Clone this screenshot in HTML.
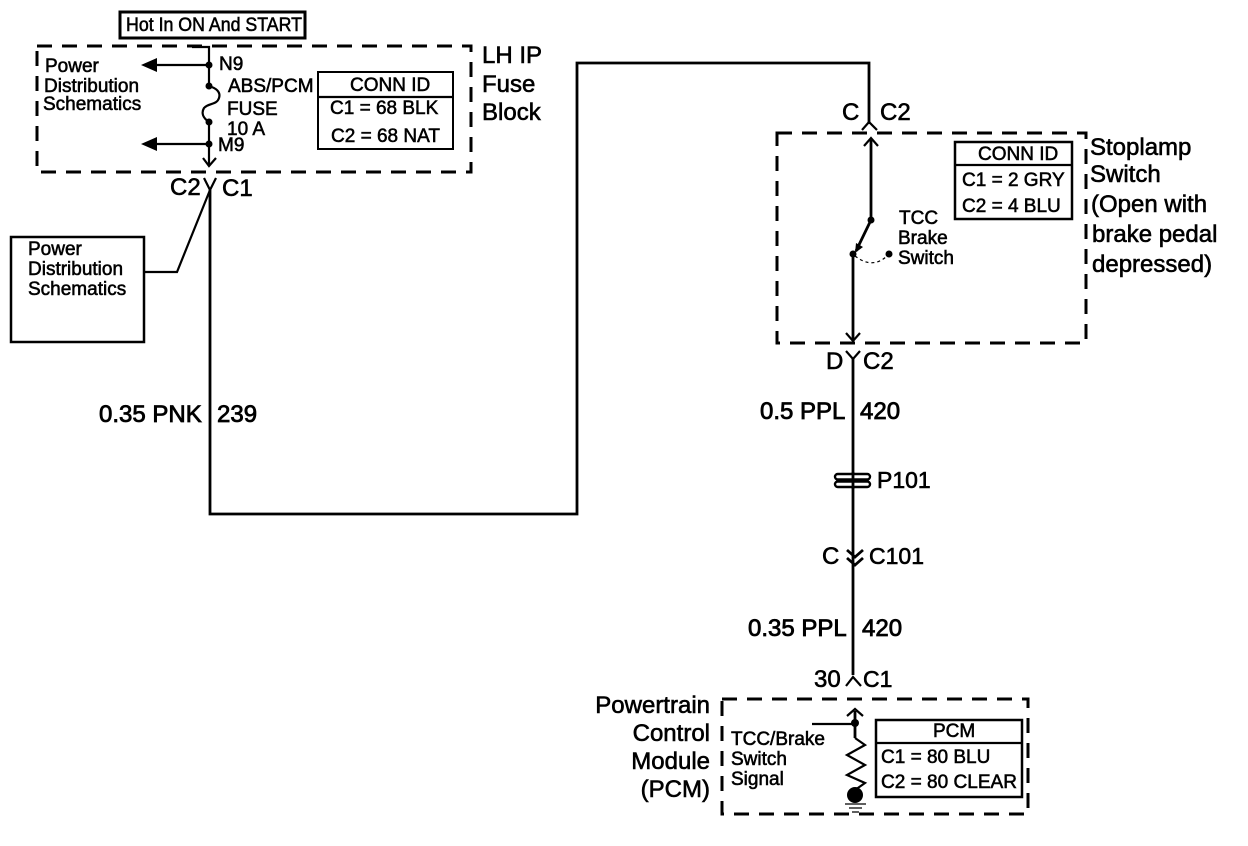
<!DOCTYPE html>
<html><head><meta charset="utf-8"><style>
html,body{margin:0;padding:0;background:#fff}
svg{display:block}
text{font-family:"Liberation Sans",sans-serif;fill:#000;stroke:#000;stroke-width:.55px}
.s{font-size:19px}.l{font-size:24px;stroke-width:.8px}.x{font-size:24px;stroke-width:.6px}.p{font-size:23px;stroke-width:.6px}
.d{fill:none;stroke:#000;stroke-width:3;stroke-dasharray:15 10}
.w{fill:none;stroke:#000;stroke-width:2.2}
.w3{fill:none;stroke:#000;stroke-width:2.8}
.b{fill:#000;stroke:none}
.e{text-anchor:end}
</style></head><body>
<svg width="1248" height="846" viewBox="0 0 1248 846" xmlns="http://www.w3.org/2000/svg">
<!-- LH IP Fuse block -->
<rect x="120" y="12" width="185" height="26" fill="none" stroke="#000" stroke-width="3"/>
<text x="126" y="31" class="s" textLength="176" lengthAdjust="spacingAndGlyphs">Hot In ON And START</text>
<rect class="d" x="37" y="46" width="434" height="126"/>
<text x="45" y="72" class="s">Power</text>
<text x="44" y="92" class="s">Distribution</text>
<text x="43" y="110" class="s">Schematics</text>
<path class="w" d="M192 47H209V86"/>
<path class="w" d="M209 86C216 88 221 92 219 98C217 105 208 103 204 108C201 113 203 118 209 122V165"/>
<path class="w" d="M203 158L209 166L216 158"/>
<path class="w" d="M155 65H209M155 144H209"/>
<path class="b" d="M141 65L157 58V72ZM141 144L157 137V151Z"/>
<circle class="b" cx="209" cy="65" r="3.5"/><circle class="b" cx="209" cy="86" r="3.5"/><circle class="b" cx="209" cy="122" r="3.5"/><circle class="b" cx="209" cy="144" r="3.5"/>
<text x="219" y="70" class="s">N9</text>
<text x="228" y="92" class="s">ABS/PCM</text>
<text x="227" y="115" class="s">FUSE</text>
<text x="227" y="135" class="s">10 A</text>
<text x="218" y="151" class="s">M9</text>
<rect x="318" y="72" width="135" height="77" fill="none" stroke="#000" stroke-width="2"/>
<path class="w" d="M318 97H453"/>
<text x="350" y="91" class="s">CONN ID</text>
<text x="330" y="114" class="s">C1 = 68 BLK</text>
<text x="331" y="142" class="s">C2 = 68 NAT</text>
<text x="482" y="63" class="x">LH IP</text>
<text x="482" y="92" class="x">Fuse</text>
<text x="482" y="120" class="x">Block</text>
<!-- C2/C1 -->
<path class="w" d="M204 178L210 190L216 178"/>
<text x="170" y="195" class="x">C2</text>
<text x="222" y="196" class="x">C1</text>
<rect x="11" y="237" width="133" height="105" fill="none" stroke="#000" stroke-width="2.5"/>
<text x="28" y="255" class="s">Power</text>
<text x="28" y="275" class="s">Distribution</text>
<text x="28" y="295" class="s">Schematics</text>
<path class="w" d="M144 272H177L210 190"/>
<path class="w3" d="M210 190V514H577V63H869V124"/>
<text x="99" y="422" class="l">0.35 PNK</text>
<text x="217" y="422" class="l">239</text>
<!-- Stoplamp -->
<text x="842" y="120" class="x">C</text>
<text x="880" y="120" class="x">C2</text>
<path class="w" d="M862 130L869 122L877 130"/>
<rect class="d" x="777" y="133" width="309" height="210"/>
<path class="w3" d="M871 140V219"/>
<path class="w" d="M864 146L871 138L878 146"/>
<circle class="b" cx="871" cy="220" r="3.5"/>
<path class="w3" d="M871 220L856 251"/>
<path class="b" d="M855 253L856 243L863 247Z"/>
<circle class="b" cx="853" cy="254" r="3.5"/>
<path d="M855 256Q873 270 888 255" fill="none" stroke="#000" stroke-width="1.2" stroke-dasharray="3 3"/>
<circle class="b" cx="889" cy="254" r="3.5"/>
<path class="w3" d="M853 254V340"/>
<path class="w" d="M846 333L853 341L860 333"/>
<text x="899" y="224" class="s">TCC</text>
<text x="898" y="244" class="s">Brake</text>
<text x="898" y="264" class="s">Switch</text>
<rect x="955" y="142" width="117" height="77" fill="none" stroke="#000" stroke-width="2.5"/>
<path class="w" d="M955 165H1072"/>
<text x="978" y="160" class="s">CONN ID</text>
<text x="962" y="186" class="s">C1 = 2 GRY</text>
<text x="962" y="212" class="s">C2 = 4 BLU</text>
<text x="1090" y="155" class="x">Stoplamp</text>
<text x="1090" y="182" class="x">Switch</text>
<text x="1091" y="212" class="x">(Open with</text>
<text x="1092" y="242" class="x">brake pedal</text>
<text x="1092" y="272" class="x">depressed)</text>
<!-- lower wire -->
<path class="w" d="M846 351L853 359L860 351"/>
<path class="w3" d="M853 359V675"/>
<text x="826" y="369" class="x">D</text>
<text x="863" y="369" class="x">C2</text>
<text x="760" y="419" class="l">0.5 PPL</text>
<text x="860" y="419" class="l">420</text>
<rect x="835" y="474" width="35" height="5.5" rx="2.7" fill="#fff" stroke="#000" stroke-width="2.4"/>
<rect x="835" y="481.5" width="35" height="5.5" rx="2.7" fill="#fff" stroke="#000" stroke-width="2.4"/>
<path d="M853 472V489" stroke="#000" stroke-width="2.8" fill="none"/>
<path d="M838 480.5H867" stroke="#000" stroke-width="2" fill="none"/>
<text x="877" y="488" class="p">P101</text>
<text x="822" y="564" class="x">C</text>
<path class="w3" d="M847 550L855 557L863 550M847 558L855 565L863 558"/>
<text x="869" y="564" class="p">C101</text>
<text x="748" y="636" class="l">0.35 PPL</text>
<text x="862" y="636" class="l">420</text>
<text x="814" y="687" class="x">30</text>
<path class="w" d="M846 686L853 677L861 686"/>
<text x="863" y="687" class="p">C1</text>
<!-- PCM -->
<rect class="d" x="722" y="699" width="306" height="115"/>
<text x="710" y="713" class="x e">Powertrain</text>
<text x="710" y="741" class="x e">Control</text>
<text x="710" y="769" class="x e">Module</text>
<text x="710" y="797" class="x e">(PCM)</text>
<path class="w3" d="M855 711V738"/>
<path class="w" d="M847 716L855 709L863 716"/>
<path class="w" d="M812 724H855"/>
<circle class="b" cx="855" cy="723" r="4"/>
<path class="w" d="M855 738L865 745L847 755L865 765L847 775L865 783L855 790"/>
<circle class="b" cx="855" cy="795" r="8"/>
<path d="M845 804H866M849 808H862M852 812H859" stroke="#000" stroke-width="1.3" fill="none"/>
<text x="731" y="745" class="s">TCC/Brake</text>
<text x="731" y="765" class="s">Switch</text>
<text x="731" y="785" class="s">Signal</text>
<rect x="876" y="720" width="146" height="77" fill="none" stroke="#000" stroke-width="2.5"/>
<path class="w" d="M876 743H1022"/>
<text x="933" y="737" class="s">PCM</text>
<text x="881" y="763" class="s">C1 = 80 BLU</text>
<text x="881" y="788" class="s" textLength="136" lengthAdjust="spacingAndGlyphs">C2 = 80 CLEAR</text>
</svg>
</body></html>
